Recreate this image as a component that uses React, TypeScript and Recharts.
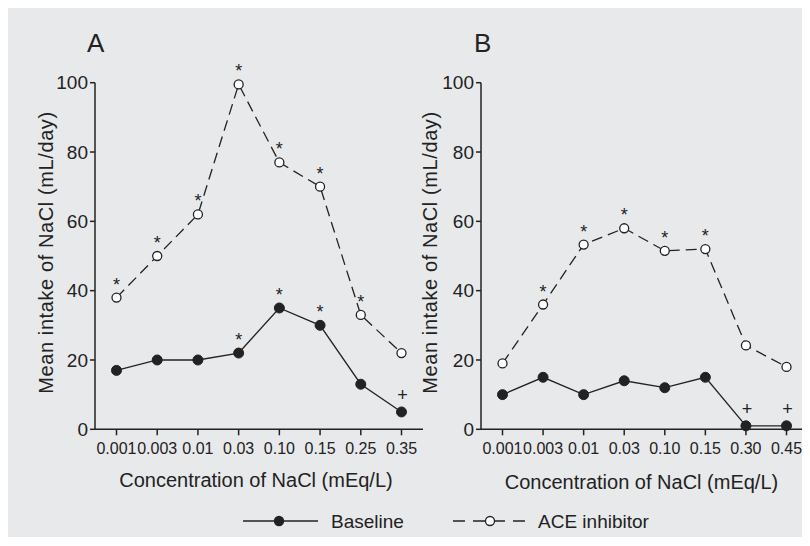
import { Label, LabelList, Line, LineChart, XAxis, YAxis } from 'recharts';

const panelAConc = ['0.001', '0.003', '0.01', '0.03', '0.10', '0.15', '0.25', '0.35'];
const panelABaseline = [17, 20, 20, 22, 35, 30, 13, 5];
const panelAAce = [38, 50, 62, 99.5, 77, 70, 33, 22];
const panelABaselineNotes = ['', '', '', '*', '*', '*', '', '+'];
const panelAAceNotes = ['*', '*', '*', '*', '*', '*', '*', ''];

const panelBConc = ['0.001', '0.003', '0.01', '0.03', '0.10', '0.15', '0.30', '0.45'];
const panelBBaseline = [10, 15, 10, 14, 12, 15, 1, 1];
const panelBAce = [19, 36, 53.3, 58, 51.5, 52, 24.2, 18];
const panelBBaselineNotes = ['', '', '', '', '', '', '+', '+'];
const panelBAceNotes = ['', '*', '*', '*', '*', '*', '', ''];

const yTicks = [0, 20, 40, 60, 80, 100];

const INK = '#222';
const FONT = '"Liberation Sans", Arial, sans-serif';

function NoteMark(props: any) {
    const value = props.value;
    if (!value) return null;
    const x = props.x ?? props.viewBox?.x;
    const y = props.y ?? props.viewBox?.y;
    const isPlus = value === '+';
    return (
        <text
            x={x + (isPlus ? 1 : 0)}
            y={y - (isPlus ? 11 : 7)}
            textAnchor="middle"
            fontSize={18}
            fontFamily={FONT}
            fill={INK}
        >
            {value}
        </text>
    );
}

function Panel({
    conc,
    baseline,
    ace,
    baseNotes,
    aceNotes,
    width,
    marginLeft,
    marginRight,
    yLabelX,
    xLabelDy,
}: {
    conc: string[];
    baseline: number[];
    ace: number[];
    baseNotes: string[];
    aceNotes: string[];
    width: number;
    marginLeft: number;
    marginRight: number;
    yLabelX: number;
    xLabelDy: number;
}) {
    const data = conc.map((c, i) => ({
        conc: c,
        baseline: baseline[i],
        ace: ace[i],
        baseNote: baseNotes[i],
        aceNote: aceNotes[i],
    }));

    return (
        <LineChart
            width={width}
            height={529}
            data={data}
            margin={{ top: 74.7, right: marginRight, left: marginLeft, bottom: 67.7 }}
        >
            <XAxis
                dataKey="conc"
                interval={0}
                padding={{ left: 21.5, right: 21.5 }}
                stroke={INK}
                strokeWidth={1.5}
                tickSize={6}
                tickMargin={7}
                height={40}
                tick={{ fill: INK, fontSize: 16, fontFamily: FONT }}
            >
                <Label
                    content={(p: any) => {
                        const vb = p.viewBox;
                        return (
                            <text
                                x={vb.x + vb.width / 2 - 3}
                                y={vb.y + xLabelDy}
                                textAnchor="middle"
                                fontSize={20}
                                fontFamily={FONT}
                                fill={INK}
                            >
                                Concentration of NaCl (mEq/L)
                            </text>
                        );
                    }}
                />
            </XAxis>
            <YAxis
                type="number"
                domain={[0, 100]}
                ticks={yTicks}
                width={60}
                stroke={INK}
                strokeWidth={1.5}
                tickSize={5}
                tickMargin={2}
                tick={{ fill: INK, fontSize: 19, fontFamily: FONT }}
            >
                <Label
                    content={(p: any) => {
                        const vb = p.viewBox;
                        const cy = vb.y + vb.height / 2 - 3.5;
                        return (
                            <text
                                x={yLabelX}
                                y={cy}
                                transform={`rotate(-90 ${yLabelX} ${cy})`}
                                textAnchor="middle"
                                fontSize={20}
                                letterSpacing={0.6}
                                fontFamily={FONT}
                                fill={INK}
                            >
                                Mean intake of NaCl (mL/day)
                            </text>
                        );
                    }}
                />
            </YAxis>
            <Line
                type="linear"
                dataKey="baseline"
                stroke={INK}
                strokeWidth={1.3}
                dot={{ r: 5, fill: INK, stroke: INK, strokeWidth: 1 }}
                isAnimationActive={false}
            >
                <LabelList dataKey="baseNote" content={NoteMark} />
            </Line>
            <Line
                type="linear"
                dataKey="ace"
                stroke={INK}
                strokeWidth={1.3}
                strokeDasharray="11 6"
                dot={{ r: 4.5, fill: '#fff', stroke: INK, strokeWidth: 1.3, strokeDasharray: '' }}
                isAnimationActive={false}
            >
                <LabelList dataKey="aceNote" content={NoteMark} />
            </Line>
        </LineChart>
    );
}

export default function App() {
    return (
        <div
            style={{
                position: 'relative',
                width: 802,
                height: 529,
                background: '#e8e9eb',
                fontFamily: FONT,
            }}
        >
            <div style={{ position: 'absolute', left: 0, top: 0 }}>
                <Panel
                    conc={panelAConc}
                    baseline={panelABaseline}
                    ace={panelAAce}
                    baseNotes={panelABaselineNotes}
                    aceNotes={panelAAceNotes}
                    width={420}
                    marginLeft={27}
                    marginRight={5}
                    yLabelX={45}
                    xLabelDy={57.7}
                />
            </div>
            <div style={{ position: 'absolute', left: 400, top: 0 }}>
                <Panel
                    conc={panelBConc}
                    baseline={panelBBaseline}
                    ace={panelBAce}
                    baseNotes={panelBBaselineNotes}
                    aceNotes={panelBAceNotes}
                    width={402}
                    marginLeft={13}
                    marginRight={2}
                    yLabelX={29}
                    xLabelDy={59.7}
                />
            </div>
            <svg
                width={802}
                height={529}
                style={{ position: 'absolute', left: 0, top: 0, pointerEvents: 'none' }}
                fontFamily={FONT}
            >
                <text x={79} y={44} fontSize={26} fill={INK}>A</text>
                <text x={466} y={44} fontSize={26} fill={INK}>B</text>

                {/* legend */}
                <line x1={235} y1={513} x2={310} y2={513} stroke={INK} strokeWidth={1.3} />
                <circle cx={271} cy={513} r={5.2} fill={INK} />
                <text x={323} y={519.5} fontSize={19} fill={INK}>Baseline</text>

                <line x1={445} y1={513} x2={518} y2={513} stroke={INK} strokeWidth={1.3} strokeDasharray="12 8" />
                <circle cx={482} cy={513} r={4.5} fill="#fff" stroke={INK} strokeWidth={1.3} />
                <text x={530} y={519.5} fontSize={19} fill={INK}>ACE inhibitor</text>
            </svg>
        </div>
    );
}
